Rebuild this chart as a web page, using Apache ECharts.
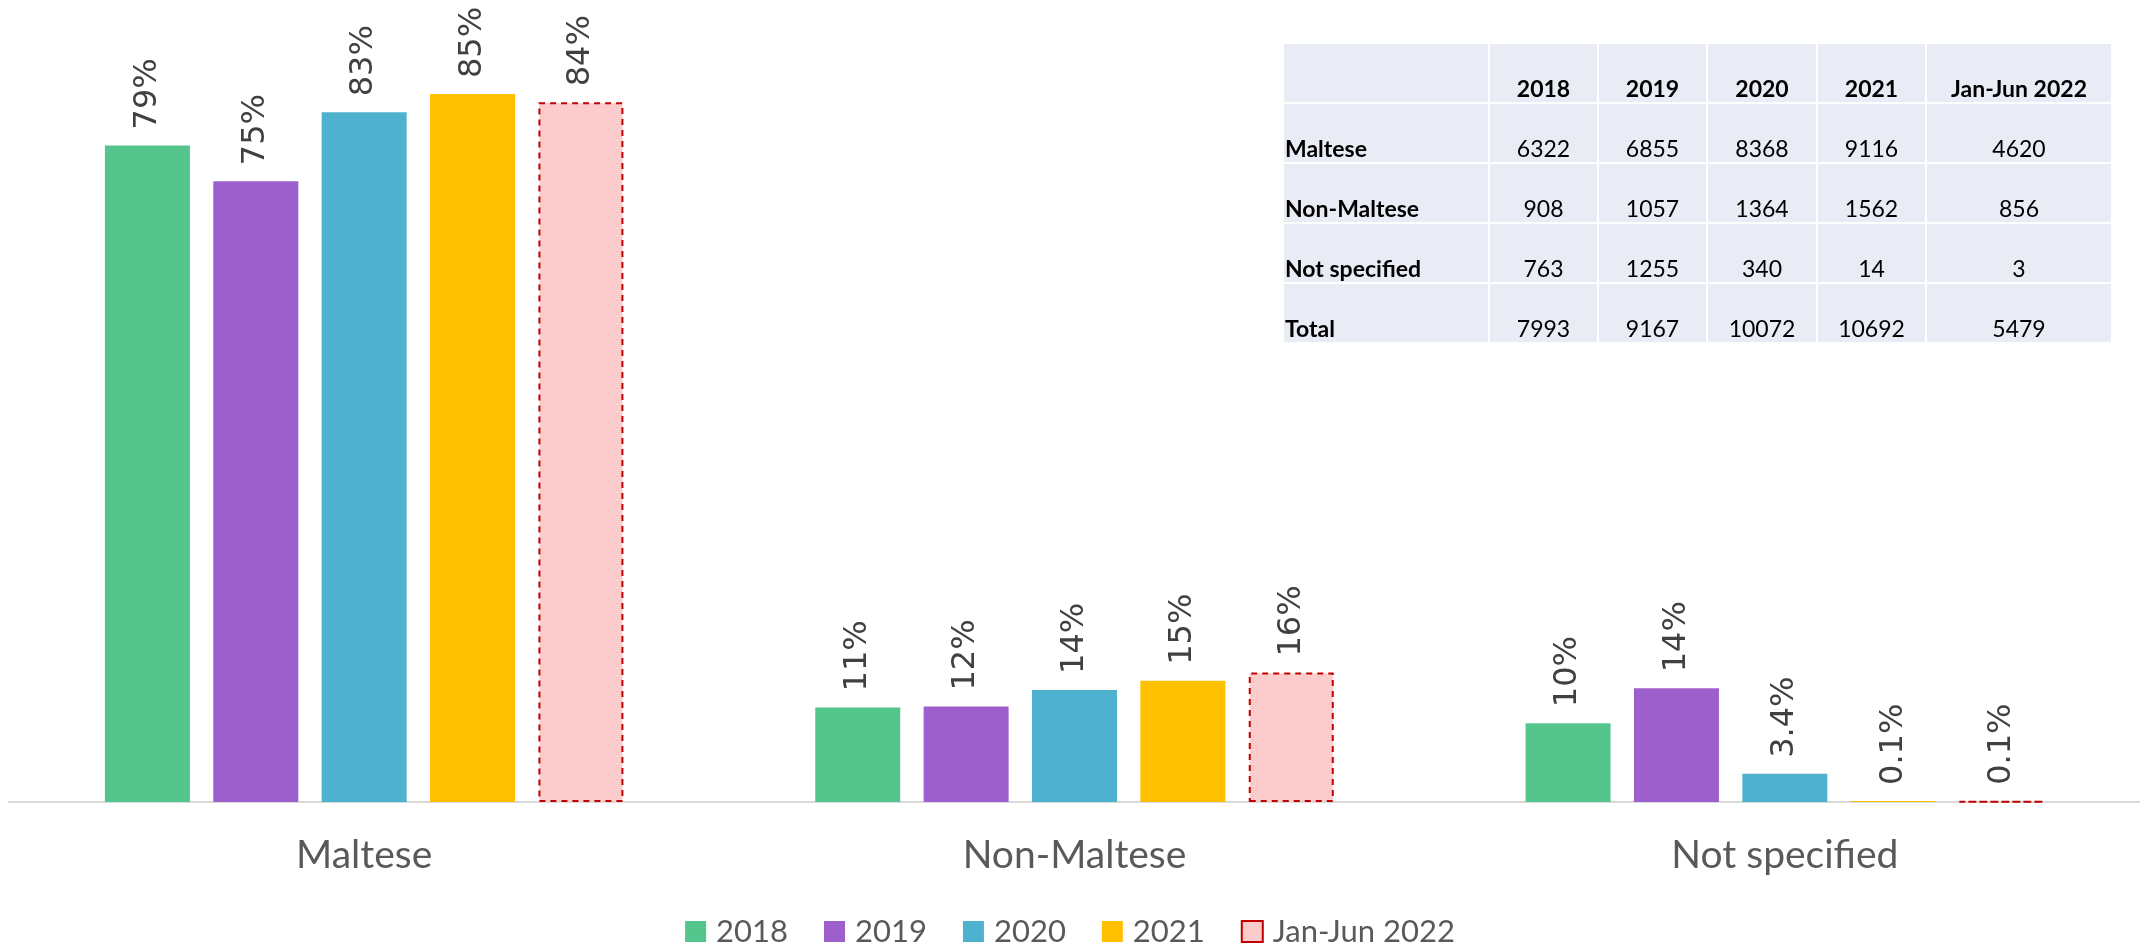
<!DOCTYPE html>
<html>
<head>
<meta charset="utf-8">
<script src="https://cdn.jsdelivr.net/npm/echarts@6/dist/echarts.min.js"></script>
<style>
html,body{margin:0;padding:0;background:#fff;}
#chart{width:2140px;height:945px;}
</style>
</head>
<body>
<div id="chart"></div>
<script>
// ---- data ----
const categories = ['Maltese', 'Non-Maltese', 'Not specified'];
const seriesNames = ['2018', '2019', '2020', '2021', 'Jan-Jun 2022'];
const share2018 = [79.1, 11.4, 9.5];
const share2019 = [74.8, 11.5, 13.7];
const share2020 = [83.1, 13.5, 3.4];
const share2021 = [85.3, 14.6, 0.13];
const shareJanJun2022 = [84.3, 15.6, 0.055];

const tableHeader = ['', '2018', '2019', '2020', '2021', 'Jan-Jun 2022'];
const tableRowLabels = ['Maltese', 'Non-Maltese', 'Not specified', 'Total'];
const tableMaltese = [6322, 6855, 8368, 9116, 4620];
const tableNonMaltese = [908, 1057, 1364, 1562, 856];
const tableNotSpecified = [763, 1255, 340, 14, 3];
const tableTotal = [7993, 9167, 10072, 10692, 5479];

// ---- styles ----
const colors = ['#55C58E', '#9D5FCC', '#4EB2CF', '#FFC000', '#FCCBCB'];
const seriesData = [share2018, share2019, share2020, share2021, shareJanJun2022];

const chart = echarts.init(document.getElementById('chart'), null, {renderer: 'canvas'});

function fmt(p) {
  const v = p.value;
  return (v >= 5 ? Math.round(v) : v.toFixed(1)) + '%';
}

const series = seriesNames.map((name, i) => {
  const s = {
    name: name,
    type: 'bar',
    data: seriesData[i],
    barWidth: 85,
    barGap: '27.5%',
    itemStyle: {color: colors[i]},
    label: {
      show: true,
      position: 'top',
      distance: 16,
      rotate: 90,
      align: 'left',
      verticalAlign: 'middle',
      formatter: fmt,
      color: '#404040',
      fontFamily: 'DejaVu Sans',
      fontSize: 32
    },
    emphasis: {disabled: true},
    animation: false
  };
  if (i === 4) {
    s.itemStyle = {
      color: colors[i],
      borderColor: '#C00000',
      borderWidth: 2,
      borderType: [6, 5]
    };
  }
  return s;
});

// ---- table built as graphic elements ----
const tableRows = [tableMaltese, tableNonMaltese, tableNotSpecified, tableTotal];
const tLeft = 1284, tTop = 44, rowH = 58, gap = 2;
const colW = [204, 107, 107, 108, 107, 184];
const graphics = [];
const tableFont = 'Lato';
for (let r = 0; r < 5; r++) {
  let x = tLeft;
  const y = tTop + r * (rowH + gap);
  for (let c = 0; c < 6; c++) {
    graphics.push({
      type: 'rect',
      shape: {x: x, y: y, width: colW[c], height: rowH},
      style: {fill: '#E9EBF5'},
      silent: true
    });
    let txt, bold, align, tx;
    if (r === 0) {
      txt = tableHeader[c]; bold = true; align = 'center'; tx = x + colW[c] / 2;
    } else if (c === 0) {
      txt = tableRowLabels[r - 1]; bold = true; align = 'left'; tx = x + 1;
    } else {
      txt = String(tableRows[r - 1][c - 1]); bold = false; align = 'center'; tx = x + colW[c] / 2;
    }
    if (txt) {
      graphics.push({
        type: 'text',
        x: tx,
        y: y + rowH - 1,
        style: {
          text: txt,
          fill: '#000000',
          font: (bold ? 'bold ' : '') + '23px ' + tableFont,
          textAlign: align,
          textVerticalAlign: 'bottom'
        },
        silent: true
      });
    }
    x += colW[c] + gap;
  }
}

chart.setOption({
  animation: false,
  backgroundColor: '#ffffff',
  grid: {left: 9, right: 0, top: 55, bottom: 143, containLabel: false},
  legend: {
    data: seriesNames,
    top: 911,
    left: 'center',
    icon: 'rect',
    itemWidth: 21,
    itemHeight: 21,
    itemGap: 36,
    textStyle: {color: '#595959', fontFamily: 'Lato', fontSize: 31, padding: [0, 0, 0, 5]}
  },
  xAxis: {
    type: 'category',
    data: categories,
    axisLine: {lineStyle: {color: '#D9D9D9', width: 2}},
    axisTick: {show: false},
    axisLabel: {color: '#595959', fontFamily: 'Lato', fontSize: 39, margin: 34}
  },
  yAxis: {
    type: 'value',
    min: 0,
    max: 90,
    interval: 10,
    show: false,
    splitLine: {show: false}
  },
  series: series,
  graphic: graphics
});
</script>
</body>
</html>
